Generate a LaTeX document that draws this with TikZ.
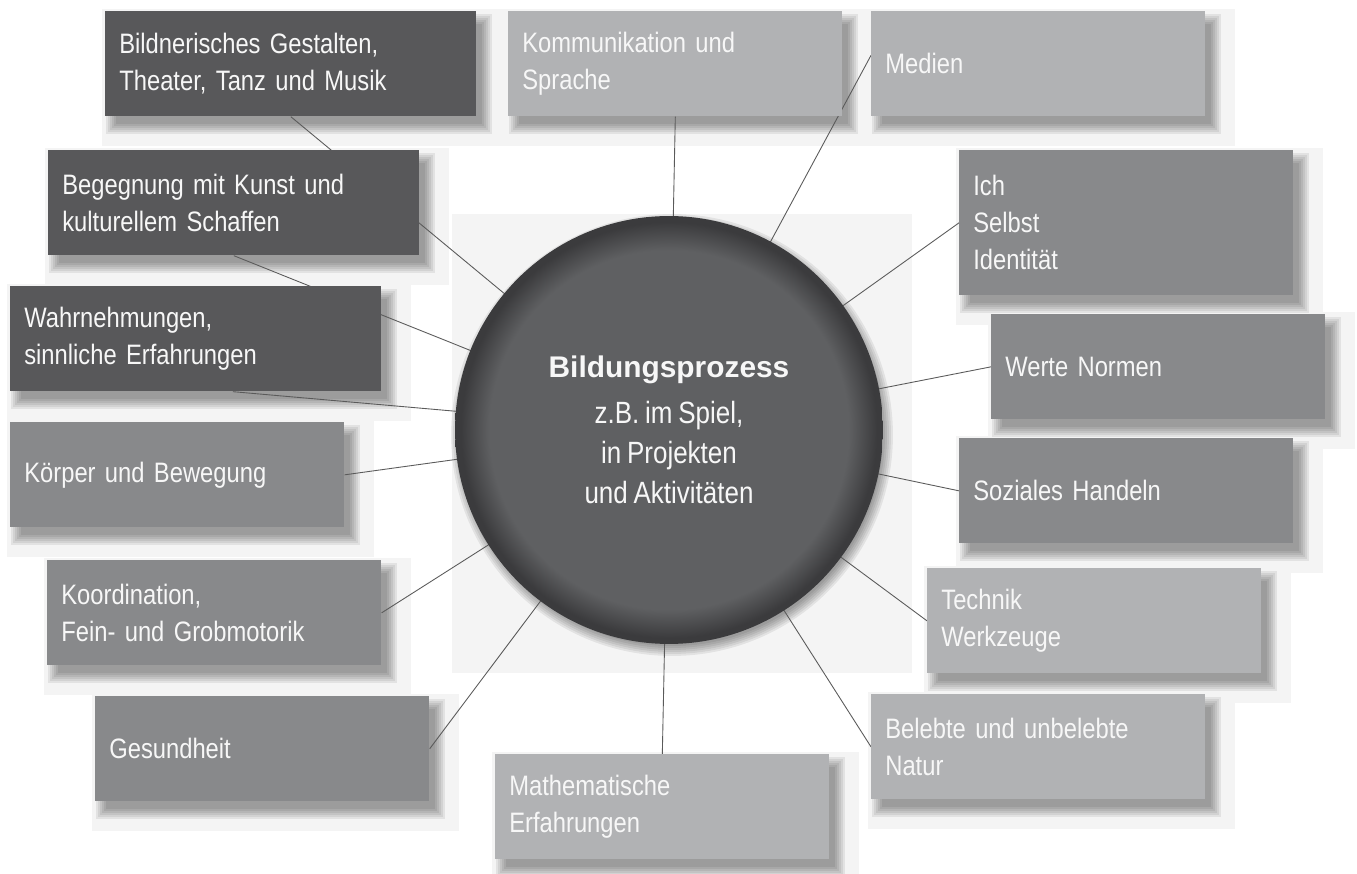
\documentclass[tikz,border=0pt]{standalone}
\usepackage{fontspec}
\setmainfont{Liberation Sans}[FakeStretch=0.845, WordSpace=0.8]
\newfontfamily\hubfont{Liberation Sans}
\usetikzlibrary{calc,positioning}

\definecolor{darktone}{HTML}{58585A}
\definecolor{midtone}{HTML}{88898B}
\definecolor{lighttone}{HTML}{B1B2B4}
\definecolor{panelgray}{HTML}{F4F4F4}
\definecolor{wiregray}{HTML}{5A5A5A}
\definecolor{boxtext}{HTML}{F7F7F7}
\definecolor{hubgray}{HTML}{5F6062}
\definecolor{hubrim}{HTML}{3B3B3D}

\pgfdeclareradialshading{hubshade}{\pgfpoint{0bp}{0bp}}{color(0bp)=(hubgray); color(21bp)=(hubgray); color(24.3bp)=(hubrim); color(25bp)=(hubrim); color(50bp)=(hubrim)}

\pgfdeclarelayer{panel}
\pgfdeclarelayer{shade}
\pgfdeclarelayer{wires}
\pgfsetlayers{panel,shade,wires,main}

\begin{document}
\begin{tikzpicture}[x=0.02cm, y=0.02cm,
  topic/.style={anchor=north west, rectangle, inner xsep=0.28cm, inner ysep=0pt,
    minimum width=6.68cm, text width=6.12cm, minimum height=2.1cm, align=left,
    text=boxtext, font=\fontsize{16}{21}\selectfont},
  wide/.style={topic, minimum width=7.42cm, text width=6.86cm},
  dark/.style={fill=darktone},
  mid/.style={fill=midtone},
  light/.style={fill=lighttone},
  hub/.style={circle, minimum size=8.56cm, inner sep=0pt, shading=hubshade,
    text=boxtext, align=center, font=\fontsize{17.5}{22.8}\selectfont},
  wire/.style={draw=wiregray, line width=0.5pt},
  panelfill/.style={fill=panelgray},
  shadefill/.style={fill=black, opacity=0.07}]

\newcommand{\topicpanel}[1]{% light panel and soft shadow behind box #1
\begin{pgfonlayer}{panel}
\fill[panelfill] ($(#1.north west)+(-3,2)$) rectangle ($(#1.south east)+(29,-29)$);
\end{pgfonlayer}
\begin{pgfonlayer}{shade}
\foreach \e in {-3,-1,...,7}
  \fill[shadefill] ($(#1.north west)+(8-\e,-10+\e)$) rectangle ($(#1.south east)+(8+\e,-10-\e)$);
\end{pgfonlayer}
}

\begin{pgfonlayer}{panel}
\fill[white] (0,0) rectangle (1357,-874);
\end{pgfonlayer}
\useasboundingbox (0,0) rectangle (1357,-874);

%hub
\node[hub] (hub) at (669,-430) {{\hubfont\bfseries\fontsize{17}{20}\selectfont Bildungsprozess}\\[3pt]z.B. im Spiel,\\in Projekten\\und Aktivitäten};
\begin{pgfonlayer}{panel}
\fill[panelfill] ($(hub.west |- hub.north)+(-3,2)$) rectangle ($(hub.east |- hub.south)+(29,-29)$);
\end{pgfonlayer}
\begin{pgfonlayer}{shade}
\foreach \e in {-3,-1,...,7}
  \fill[shadefill] ($(hub.center)+(3,-5)$) circle [radius={4.28cm+\e*0.02cm}];
\end{pgfonlayer}

%left side
\node[wide, dark] (bild) at (105,-11) {Bildnerisches Gestalten,\\Theater, Tanz und Musik};
\topicpanel{bild}
\node[wide, dark] (begeg) at (48,-150) {Begegnung mit Kunst und\\kulturellem Schaffen};
\topicpanel{begeg}
\node[wide, dark] (wahr) at (10,-286) {Wahrnehmungen,\\sinnliche Erfahrungen};
\topicpanel{wahr}
\node[topic, mid] (koerper) at (10,-422) {Körper und Bewegung};
\topicpanel{koerper}
\node[topic, mid] (koord) at (47,-560) {Koordination,\\Fein- und Grobmotorik};
\topicpanel{koord}
\node[topic, mid] (gesund) at (95,-696) {Gesundheit};
\topicpanel{gesund}

%top and bottom
\node[topic, light] (komm) at (508,-11) {Kommunikation und\\Sprache};
\topicpanel{komm}
\node[topic, light] (mathe) at (495,-754) {Mathematische\\Erfahrungen};
\topicpanel{mathe}

%right side
\node[topic, light] (medien) at (871,-11) {Medien};
\topicpanel{medien}
\node[topic, mid, minimum height=2.9cm] (ich) at (959,-150) {Ich\\Selbst\\Identität};
\topicpanel{ich}
\node[topic, mid] (werte) at (991,-314) {Werte Normen};
\topicpanel{werte}
\node[topic, mid] (sozial) at (959,-438) {Soziales Handeln};
\topicpanel{sozial}
\node[topic, light] (technik) at (927,-568) {Technik\\Werkzeuge};
\topicpanel{technik}
\node[topic, light] (natur) at (871,-694) {Belebte und unbelebte\\Natur};
\topicpanel{natur}

%wires
\begin{pgfonlayer}{wires}
\draw[wire] (bild.south) -- (hub.center);
\draw[wire] (begeg.south) -- (hub.center);
\draw[wire] ($(wahr.south west)!0.6!(wahr.south east)$) -- (hub.center);
\draw[wire] (koerper.east) -- (hub.center);
\draw[wire] (koord.east) -- (hub.center);
\draw[wire] (gesund.east) -- (hub.center);
\draw[wire] (komm.south) -- (hub.center);
\draw[wire] (mathe.north) -- (hub.center);
\draw[wire] ($(medien.north west)!0.42!(medien.south west)$) -- (hub.center);
\draw[wire] (ich.west) -- (hub.center);
\draw[wire] (werte.west) -- (hub.center);
\draw[wire] (sozial.west) -- (hub.center);
\draw[wire] (technik.west) -- (hub.center);
\draw[wire] (natur.west) -- (hub.center);
\end{pgfonlayer}

\end{tikzpicture}
\end{document}
